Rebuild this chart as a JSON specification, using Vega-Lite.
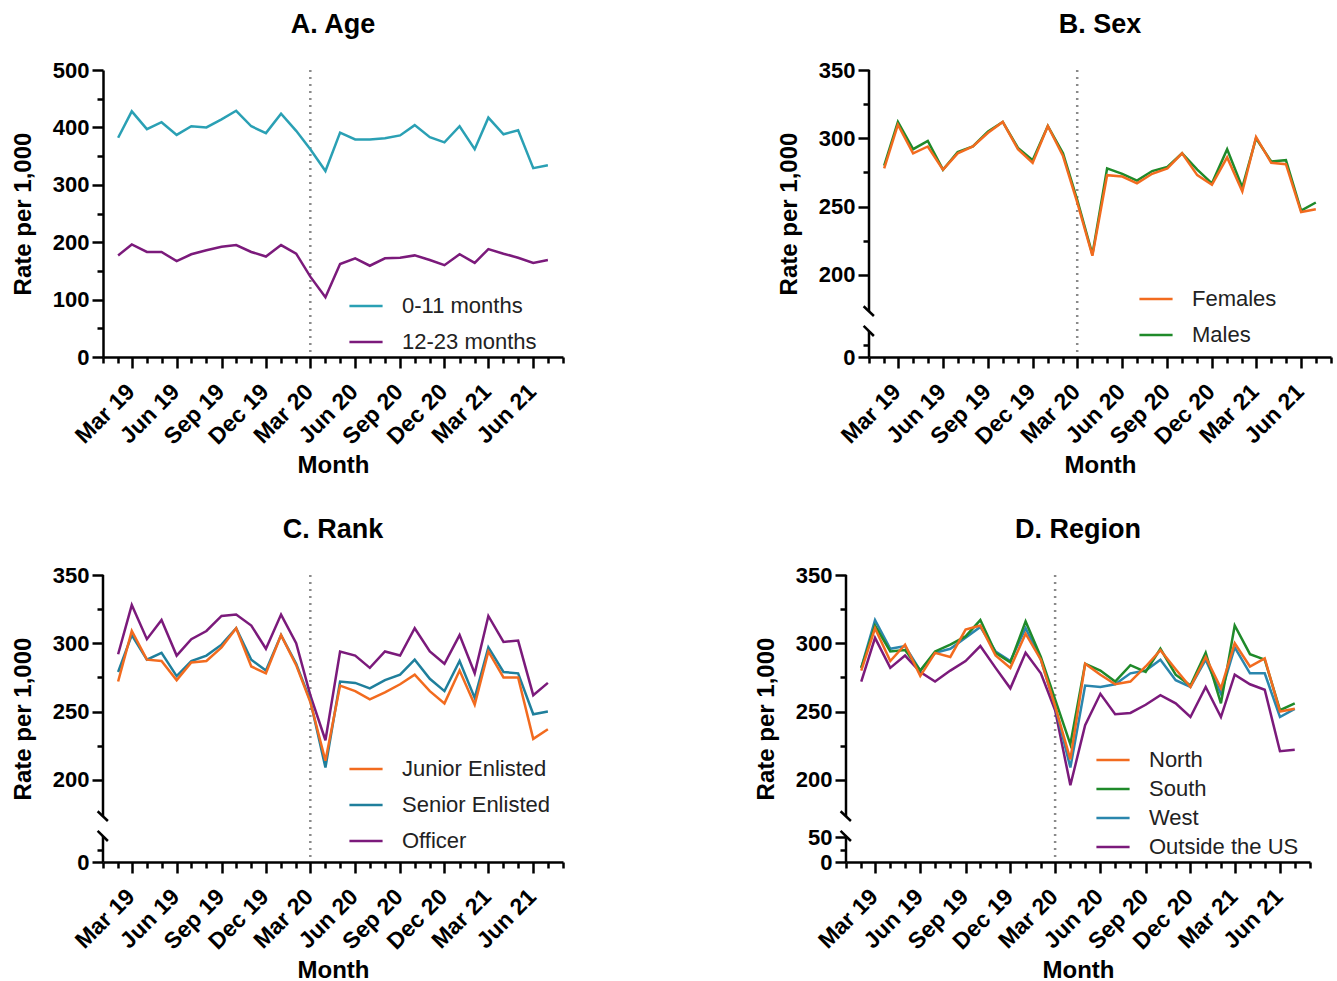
{
  "$schema": "https://vega.github.io/schema/vega-lite/v6.json",
  "padding": {"left": 11, "top": 11, "right": 5, "bottom": 5},
  "background": "white",
  "datasets": {
    "age": [
      {"month":"2019-02-01","group":"0-11 months","rate":382},{"month":"2019-03-01","group":"0-11 months","rate":428},{"month":"2019-04-01","group":"0-11 months","rate":397},{"month":"2019-05-01","group":"0-11 months","rate":409},{"month":"2019-06-01","group":"0-11 months","rate":387},{"month":"2019-07-01","group":"0-11 months","rate":402},{"month":"2019-08-01","group":"0-11 months","rate":400},{"month":"2019-09-01","group":"0-11 months","rate":414},{"month":"2019-10-01","group":"0-11 months","rate":429},{"month":"2019-11-01","group":"0-11 months","rate":402},{"month":"2019-12-01","group":"0-11 months","rate":390},{"month":"2020-01-01","group":"0-11 months","rate":424},{"month":"2020-02-01","group":"0-11 months","rate":394},{"month":"2020-03-01","group":"0-11 months","rate":362},{"month":"2020-04-01","group":"0-11 months","rate":324},{"month":"2020-05-01","group":"0-11 months","rate":391},{"month":"2020-06-01","group":"0-11 months","rate":379},{"month":"2020-07-01","group":"0-11 months","rate":379},{"month":"2020-08-01","group":"0-11 months","rate":381},{"month":"2020-09-01","group":"0-11 months","rate":386},{"month":"2020-10-01","group":"0-11 months","rate":404},{"month":"2020-11-01","group":"0-11 months","rate":383},{"month":"2020-12-01","group":"0-11 months","rate":374},{"month":"2021-01-01","group":"0-11 months","rate":402},{"month":"2021-02-01","group":"0-11 months","rate":362},{"month":"2021-03-01","group":"0-11 months","rate":417},{"month":"2021-04-01","group":"0-11 months","rate":388},{"month":"2021-05-01","group":"0-11 months","rate":395},{"month":"2021-06-01","group":"0-11 months","rate":329},{"month":"2021-07-01","group":"0-11 months","rate":334},
      {"month":"2019-02-01","group":"12-23 months","rate":177},{"month":"2019-03-01","group":"12-23 months","rate":196},{"month":"2019-04-01","group":"12-23 months","rate":183},{"month":"2019-05-01","group":"12-23 months","rate":183},{"month":"2019-06-01","group":"12-23 months","rate":167},{"month":"2019-07-01","group":"12-23 months","rate":179},{"month":"2019-08-01","group":"12-23 months","rate":186},{"month":"2019-09-01","group":"12-23 months","rate":192},{"month":"2019-10-01","group":"12-23 months","rate":195},{"month":"2019-11-01","group":"12-23 months","rate":183},{"month":"2019-12-01","group":"12-23 months","rate":175},{"month":"2020-01-01","group":"12-23 months","rate":195},{"month":"2020-02-01","group":"12-23 months","rate":180},{"month":"2020-03-01","group":"12-23 months","rate":140},{"month":"2020-04-01","group":"12-23 months","rate":104},{"month":"2020-05-01","group":"12-23 months","rate":162},{"month":"2020-06-01","group":"12-23 months","rate":172},{"month":"2020-07-01","group":"12-23 months","rate":159},{"month":"2020-08-01","group":"12-23 months","rate":172},{"month":"2020-09-01","group":"12-23 months","rate":173},{"month":"2020-10-01","group":"12-23 months","rate":177},{"month":"2020-11-01","group":"12-23 months","rate":169},{"month":"2020-12-01","group":"12-23 months","rate":160},{"month":"2021-01-01","group":"12-23 months","rate":179},{"month":"2021-02-01","group":"12-23 months","rate":164},{"month":"2021-03-01","group":"12-23 months","rate":188},{"month":"2021-04-01","group":"12-23 months","rate":180},{"month":"2021-05-01","group":"12-23 months","rate":173},{"month":"2021-06-01","group":"12-23 months","rate":164},{"month":"2021-07-01","group":"12-23 months","rate":169}
    ],
    "sex": [
      {"month":"2019-02-01","group":"Males","rate":280},{"month":"2019-03-01","group":"Males","rate":312},{"month":"2019-04-01","group":"Males","rate":292},{"month":"2019-05-01","group":"Males","rate":298},{"month":"2019-06-01","group":"Males","rate":277},{"month":"2019-07-01","group":"Males","rate":290},{"month":"2019-08-01","group":"Males","rate":294},{"month":"2019-09-01","group":"Males","rate":305},{"month":"2019-10-01","group":"Males","rate":312},{"month":"2019-11-01","group":"Males","rate":293},{"month":"2019-12-01","group":"Males","rate":284},{"month":"2020-01-01","group":"Males","rate":309},{"month":"2020-02-01","group":"Males","rate":289},{"month":"2020-03-01","group":"Males","rate":255},{"month":"2020-04-01","group":"Males","rate":215},{"month":"2020-05-01","group":"Males","rate":278},{"month":"2020-06-01","group":"Males","rate":274},{"month":"2020-07-01","group":"Males","rate":269},{"month":"2020-08-01","group":"Males","rate":276},{"month":"2020-09-01","group":"Males","rate":279},{"month":"2020-10-01","group":"Males","rate":289},{"month":"2020-11-01","group":"Males","rate":277},{"month":"2020-12-01","group":"Males","rate":267},{"month":"2021-01-01","group":"Males","rate":292},{"month":"2021-02-01","group":"Males","rate":264},{"month":"2021-03-01","group":"Males","rate":300},{"month":"2021-04-01","group":"Males","rate":283},{"month":"2021-05-01","group":"Males","rate":284},{"month":"2021-06-01","group":"Males","rate":247},{"month":"2021-07-01","group":"Males","rate":253},
      {"month":"2019-02-01","group":"Females","rate":278},{"month":"2019-03-01","group":"Females","rate":310},{"month":"2019-04-01","group":"Females","rate":289},{"month":"2019-05-01","group":"Females","rate":294},{"month":"2019-06-01","group":"Females","rate":277},{"month":"2019-07-01","group":"Females","rate":289},{"month":"2019-08-01","group":"Females","rate":294},{"month":"2019-09-01","group":"Females","rate":304},{"month":"2019-10-01","group":"Females","rate":312},{"month":"2019-11-01","group":"Females","rate":292},{"month":"2019-12-01","group":"Females","rate":282},{"month":"2020-01-01","group":"Females","rate":309},{"month":"2020-02-01","group":"Females","rate":287},{"month":"2020-03-01","group":"Females","rate":253},{"month":"2020-04-01","group":"Females","rate":214},{"month":"2020-05-01","group":"Females","rate":273},{"month":"2020-06-01","group":"Females","rate":272},{"month":"2020-07-01","group":"Females","rate":267},{"month":"2020-08-01","group":"Females","rate":274},{"month":"2020-09-01","group":"Females","rate":278},{"month":"2020-10-01","group":"Females","rate":289},{"month":"2020-11-01","group":"Females","rate":273},{"month":"2020-12-01","group":"Females","rate":266},{"month":"2021-01-01","group":"Females","rate":286},{"month":"2021-02-01","group":"Females","rate":261},{"month":"2021-03-01","group":"Females","rate":301},{"month":"2021-04-01","group":"Females","rate":282},{"month":"2021-05-01","group":"Females","rate":281},{"month":"2021-06-01","group":"Females","rate":246},{"month":"2021-07-01","group":"Females","rate":248}
    ],
    "rank": [
      {"month":"2019-02-01","group":"Officer","rate":292},{"month":"2019-03-01","group":"Officer","rate":328},{"month":"2019-04-01","group":"Officer","rate":303},{"month":"2019-05-01","group":"Officer","rate":317},{"month":"2019-06-01","group":"Officer","rate":291},{"month":"2019-07-01","group":"Officer","rate":303},{"month":"2019-08-01","group":"Officer","rate":309},{"month":"2019-09-01","group":"Officer","rate":320},{"month":"2019-10-01","group":"Officer","rate":321},{"month":"2019-11-01","group":"Officer","rate":313},{"month":"2019-12-01","group":"Officer","rate":296},{"month":"2020-01-01","group":"Officer","rate":321},{"month":"2020-02-01","group":"Officer","rate":300},{"month":"2020-03-01","group":"Officer","rate":262},{"month":"2020-04-01","group":"Officer","rate":229},{"month":"2020-05-01","group":"Officer","rate":294},{"month":"2020-06-01","group":"Officer","rate":291},{"month":"2020-07-01","group":"Officer","rate":282},{"month":"2020-08-01","group":"Officer","rate":294},{"month":"2020-09-01","group":"Officer","rate":291},{"month":"2020-10-01","group":"Officer","rate":311},{"month":"2020-11-01","group":"Officer","rate":294},{"month":"2020-12-01","group":"Officer","rate":285},{"month":"2021-01-01","group":"Officer","rate":306},{"month":"2021-02-01","group":"Officer","rate":278},{"month":"2021-03-01","group":"Officer","rate":320},{"month":"2021-04-01","group":"Officer","rate":301},{"month":"2021-05-01","group":"Officer","rate":302},{"month":"2021-06-01","group":"Officer","rate":262},{"month":"2021-07-01","group":"Officer","rate":271},
      {"month":"2019-02-01","group":"Senior Enlisted","rate":279},{"month":"2019-03-01","group":"Senior Enlisted","rate":306},{"month":"2019-04-01","group":"Senior Enlisted","rate":288},{"month":"2019-05-01","group":"Senior Enlisted","rate":293},{"month":"2019-06-01","group":"Senior Enlisted","rate":276},{"month":"2019-07-01","group":"Senior Enlisted","rate":287},{"month":"2019-08-01","group":"Senior Enlisted","rate":291},{"month":"2019-09-01","group":"Senior Enlisted","rate":299},{"month":"2019-10-01","group":"Senior Enlisted","rate":311},{"month":"2019-11-01","group":"Senior Enlisted","rate":288},{"month":"2019-12-01","group":"Senior Enlisted","rate":280},{"month":"2020-01-01","group":"Senior Enlisted","rate":306},{"month":"2020-02-01","group":"Senior Enlisted","rate":285},{"month":"2020-03-01","group":"Senior Enlisted","rate":258},{"month":"2020-04-01","group":"Senior Enlisted","rate":209},{"month":"2020-05-01","group":"Senior Enlisted","rate":272},{"month":"2020-06-01","group":"Senior Enlisted","rate":271},{"month":"2020-07-01","group":"Senior Enlisted","rate":267},{"month":"2020-08-01","group":"Senior Enlisted","rate":273},{"month":"2020-09-01","group":"Senior Enlisted","rate":277},{"month":"2020-10-01","group":"Senior Enlisted","rate":288},{"month":"2020-11-01","group":"Senior Enlisted","rate":274},{"month":"2020-12-01","group":"Senior Enlisted","rate":265},{"month":"2021-01-01","group":"Senior Enlisted","rate":287},{"month":"2021-02-01","group":"Senior Enlisted","rate":260},{"month":"2021-03-01","group":"Senior Enlisted","rate":297},{"month":"2021-04-01","group":"Senior Enlisted","rate":279},{"month":"2021-05-01","group":"Senior Enlisted","rate":278},{"month":"2021-06-01","group":"Senior Enlisted","rate":248},{"month":"2021-07-01","group":"Senior Enlisted","rate":250},
      {"month":"2019-02-01","group":"Junior Enlisted","rate":272},{"month":"2019-03-01","group":"Junior Enlisted","rate":309},{"month":"2019-04-01","group":"Junior Enlisted","rate":288},{"month":"2019-05-01","group":"Junior Enlisted","rate":287},{"month":"2019-06-01","group":"Junior Enlisted","rate":273},{"month":"2019-07-01","group":"Junior Enlisted","rate":286},{"month":"2019-08-01","group":"Junior Enlisted","rate":287},{"month":"2019-09-01","group":"Junior Enlisted","rate":297},{"month":"2019-10-01","group":"Junior Enlisted","rate":311},{"month":"2019-11-01","group":"Junior Enlisted","rate":283},{"month":"2019-12-01","group":"Junior Enlisted","rate":278},{"month":"2020-01-01","group":"Junior Enlisted","rate":306},{"month":"2020-02-01","group":"Junior Enlisted","rate":284},{"month":"2020-03-01","group":"Junior Enlisted","rate":257},{"month":"2020-04-01","group":"Junior Enlisted","rate":214},{"month":"2020-05-01","group":"Junior Enlisted","rate":269},{"month":"2020-06-01","group":"Junior Enlisted","rate":265},{"month":"2020-07-01","group":"Junior Enlisted","rate":259},{"month":"2020-08-01","group":"Junior Enlisted","rate":264},{"month":"2020-09-01","group":"Junior Enlisted","rate":270},{"month":"2020-10-01","group":"Junior Enlisted","rate":277},{"month":"2020-11-01","group":"Junior Enlisted","rate":265},{"month":"2020-12-01","group":"Junior Enlisted","rate":256},{"month":"2021-01-01","group":"Junior Enlisted","rate":280},{"month":"2021-02-01","group":"Junior Enlisted","rate":255},{"month":"2021-03-01","group":"Junior Enlisted","rate":294},{"month":"2021-04-01","group":"Junior Enlisted","rate":275},{"month":"2021-05-01","group":"Junior Enlisted","rate":275},{"month":"2021-06-01","group":"Junior Enlisted","rate":230},{"month":"2021-07-01","group":"Junior Enlisted","rate":237}
    ],
    "region": [
      {"month":"2019-02-01","group":"Outside the US","rate":272},{"month":"2019-03-01","group":"Outside the US","rate":304},{"month":"2019-04-01","group":"Outside the US","rate":282},{"month":"2019-05-01","group":"Outside the US","rate":291},{"month":"2019-06-01","group":"Outside the US","rate":279},{"month":"2019-07-01","group":"Outside the US","rate":272},{"month":"2019-08-01","group":"Outside the US","rate":280},{"month":"2019-09-01","group":"Outside the US","rate":287},{"month":"2019-10-01","group":"Outside the US","rate":298},{"month":"2019-11-01","group":"Outside the US","rate":282},{"month":"2019-12-01","group":"Outside the US","rate":267},{"month":"2020-01-01","group":"Outside the US","rate":293},{"month":"2020-02-01","group":"Outside the US","rate":278},{"month":"2020-03-01","group":"Outside the US","rate":251},{"month":"2020-04-01","group":"Outside the US","rate":196},{"month":"2020-05-01","group":"Outside the US","rate":240},{"month":"2020-06-01","group":"Outside the US","rate":263},{"month":"2020-07-01","group":"Outside the US","rate":248},{"month":"2020-08-01","group":"Outside the US","rate":249},{"month":"2020-09-01","group":"Outside the US","rate":255},{"month":"2020-10-01","group":"Outside the US","rate":262},{"month":"2020-11-01","group":"Outside the US","rate":256},{"month":"2020-12-01","group":"Outside the US","rate":246},{"month":"2021-01-01","group":"Outside the US","rate":268},{"month":"2021-02-01","group":"Outside the US","rate":246},{"month":"2021-03-01","group":"Outside the US","rate":277},{"month":"2021-04-01","group":"Outside the US","rate":270},{"month":"2021-05-01","group":"Outside the US","rate":266},{"month":"2021-06-01","group":"Outside the US","rate":221},{"month":"2021-07-01","group":"Outside the US","rate":222},
      {"month":"2019-02-01","group":"West","rate":282},{"month":"2019-03-01","group":"West","rate":317},{"month":"2019-04-01","group":"West","rate":296},{"month":"2019-05-01","group":"West","rate":298},{"month":"2019-06-01","group":"West","rate":280},{"month":"2019-07-01","group":"West","rate":293},{"month":"2019-08-01","group":"West","rate":296},{"month":"2019-09-01","group":"West","rate":304},{"month":"2019-10-01","group":"West","rate":312},{"month":"2019-11-01","group":"West","rate":294},{"month":"2019-12-01","group":"West","rate":287},{"month":"2020-01-01","group":"West","rate":311},{"month":"2020-02-01","group":"West","rate":288},{"month":"2020-03-01","group":"West","rate":254},{"month":"2020-04-01","group":"West","rate":209},{"month":"2020-05-01","group":"West","rate":269},{"month":"2020-06-01","group":"West","rate":268},{"month":"2020-07-01","group":"West","rate":270},{"month":"2020-08-01","group":"West","rate":278},{"month":"2020-09-01","group":"West","rate":280},{"month":"2020-10-01","group":"West","rate":288},{"month":"2020-11-01","group":"West","rate":273},{"month":"2020-12-01","group":"West","rate":268},{"month":"2021-01-01","group":"West","rate":288},{"month":"2021-02-01","group":"West","rate":263},{"month":"2021-03-01","group":"West","rate":297},{"month":"2021-04-01","group":"West","rate":278},{"month":"2021-05-01","group":"West","rate":278},{"month":"2021-06-01","group":"West","rate":246},{"month":"2021-07-01","group":"West","rate":252},
      {"month":"2019-02-01","group":"South","rate":282},{"month":"2019-03-01","group":"South","rate":313},{"month":"2019-04-01","group":"South","rate":294},{"month":"2019-05-01","group":"South","rate":295},{"month":"2019-06-01","group":"South","rate":280},{"month":"2019-07-01","group":"South","rate":294},{"month":"2019-08-01","group":"South","rate":299},{"month":"2019-09-01","group":"South","rate":305},{"month":"2019-10-01","group":"South","rate":317},{"month":"2019-11-01","group":"South","rate":293},{"month":"2019-12-01","group":"South","rate":286},{"month":"2020-01-01","group":"South","rate":316},{"month":"2020-02-01","group":"South","rate":290},{"month":"2020-03-01","group":"South","rate":259},{"month":"2020-04-01","group":"South","rate":226},{"month":"2020-05-01","group":"South","rate":285},{"month":"2020-06-01","group":"South","rate":280},{"month":"2020-07-01","group":"South","rate":272},{"month":"2020-08-01","group":"South","rate":284},{"month":"2020-09-01","group":"South","rate":279},{"month":"2020-10-01","group":"South","rate":296},{"month":"2020-11-01","group":"South","rate":277},{"month":"2020-12-01","group":"South","rate":269},{"month":"2021-01-01","group":"South","rate":293},{"month":"2021-02-01","group":"South","rate":256},{"month":"2021-03-01","group":"South","rate":313},{"month":"2021-04-01","group":"South","rate":292},{"month":"2021-05-01","group":"South","rate":288},{"month":"2021-06-01","group":"South","rate":251},{"month":"2021-07-01","group":"South","rate":256},
      {"month":"2019-02-01","group":"North","rate":280},{"month":"2019-03-01","group":"North","rate":311},{"month":"2019-04-01","group":"North","rate":287},{"month":"2019-05-01","group":"North","rate":299},{"month":"2019-06-01","group":"North","rate":276},{"month":"2019-07-01","group":"North","rate":293},{"month":"2019-08-01","group":"North","rate":290},{"month":"2019-09-01","group":"North","rate":310},{"month":"2019-10-01","group":"North","rate":313},{"month":"2019-11-01","group":"North","rate":291},{"month":"2019-12-01","group":"North","rate":282},{"month":"2020-01-01","group":"North","rate":307},{"month":"2020-02-01","group":"North","rate":288},{"month":"2020-03-01","group":"North","rate":254},{"month":"2020-04-01","group":"North","rate":215},{"month":"2020-05-01","group":"North","rate":285},{"month":"2020-06-01","group":"North","rate":277},{"month":"2020-07-01","group":"North","rate":270},{"month":"2020-08-01","group":"North","rate":272},{"month":"2020-09-01","group":"North","rate":283},{"month":"2020-10-01","group":"North","rate":295},{"month":"2020-11-01","group":"North","rate":281},{"month":"2020-12-01","group":"North","rate":268},{"month":"2021-01-01","group":"North","rate":290},{"month":"2021-02-01","group":"North","rate":267},{"month":"2021-03-01","group":"North","rate":300},{"month":"2021-04-01","group":"North","rate":283},{"month":"2021-05-01","group":"North","rate":289},{"month":"2021-06-01","group":"North","rate":250},{"month":"2021-07-01","group":"North","rate":252}
    ],
    "event": [{"month": "2020-03-01"}]
  },
  "config": {
    "view": {"stroke": null},
    "font": "Liberation Sans",
    "axis": {
      "grid": false, "domainColor": "black", "domainWidth": 2.5, "tickColor": "black", "tickWidth": 2.5,
      "labelFont": "Liberation Sans", "labelFontWeight": "bold", "labelFontSize": 22, "labelColor": "black",
      "titleFont": "Liberation Sans", "titleFontWeight": "bold", "titleFontSize": 24, "titleColor": "black"
    },
    "axisX": {"labelFontSize": 23, "labelOffset": -9},
    "axisY": {"tickCount": 50, "titlePadding": 17},
    "legend": {
      "labelFont": "Liberation Sans", "labelFontSize": 22, "labelColor": "#222222",
      "symbolType": "stroke", "symbolStrokeWidth": 3, "symbolSize": 1100, "labelOffset": 18, "rowPadding": 7
    },
    "title": {"font": "Liberation Sans", "fontSize": 27, "fontWeight": "bold", "color": "black", "offset": 20},
    "line": {"strokeWidth": 2.5}
  },
  "spacing": 38,
  "resolve": {"scale": {"color": "independent"}, "legend": {"color": "independent"}},
  "vconcat": [
    {
      "bounds": "flush",
      "spacing": 306,
      "resolve": {"scale": {"color": "independent"}, "legend": {"color": "independent"}},
      "hconcat": [
        {
          "title": "A. Age",
          "width": 460, "height": 287,
          "layer": [
            {
              "data": {"name": "event"},
              "mark": {"type": "rule", "color": "#8a8a8a", "strokeWidth": 2.5, "strokeDash": [2, 5]},
              "encoding": {"x": {"field": "month", "type": "temporal", "scale": {"type": "utc"}}}
            },
            {
              "data": {"name": "age"},
              "mark": {"type": "line"},
              "encoding": {
                "x": {"field": "month", "type": "temporal", "title": "Month",
                  "scale": {"type": "utc", "nice": false, "domain": [{"year": 2019, "month": 1, "date": 1, "utc": true}, {"year": 2021, "month": 8, "date": 1, "utc": true}]},
                  "axis": {"tickCount": {"interval": "month", "step": 1}, "labelAngle": -45, "labelAlign": "right", "labelBaseline": "top", "labelOverlap": false, "labelFlush": false, "labelPadding": 12, "titlePadding": 5,
                    "labelExpr": "utcmonth(datum.value) % 3 == 2 ? utcFormat(datum.value, '%b %y') : ''",
                    "tickSize": {"condition": {"test": "utcmonth(datum.value) % 3 == 2", "value": 11}, "value": 6}}},
                "y": {"field": "rate", "type": "quantitative", "title": "Rate per 1,000",
                  "scale": {"domain": [0, 500], "nice": false},
                  "axis": {"values": [0, 50, 100, 150, 200, 250, 300, 350, 400, 450, 500], "labelPadding": 3, "labelOverlap": false,
                    "labelExpr": "datum.value % 100 == 0 ? datum.label : ''",
                    "tickSize": {"condition": {"test": "datum.value % 100 == 0", "value": 11}, "value": 6}}},
                "color": {"field": "group", "type": "nominal",
                  "scale": {"domain": ["0-11 months", "12-23 months"], "range": ["#2aa0b4", "#7b1a7b"]},
                  "legend": {"title": null, "orient": "none", "legendX": 245, "legendY": 218}}
              }
            }
          ]
        },
        {
          "title": "B. Sex",
          "width": 462, "height": 287,
          "layer": [
            {
              "data": {"name": "event"},
              "mark": {"type": "rule", "color": "#8a8a8a", "strokeWidth": 2.5, "strokeDash": [2, 5]},
              "encoding": {"x": {"field": "month", "type": "temporal", "scale": {"type": "utc"}}}
            },
            {
              "data": {"values": [{}]},
              "mark": {"type": "rule", "color": "black", "strokeWidth": 2.5},
              "encoding": {
                "x": {"datum": {"year": 2019, "month": 1, "date": 1, "utc": true}, "type": "temporal", "scale": {"type": "utc"}},
                "y": {"datum": 164}, "y2": {"datum": 350}
              }
            },
            {
              "data": {"values": [{}]},
              "mark": {"type": "rule", "color": "black", "strokeWidth": 2.5},
              "encoding": {
                "x": {"datum": {"year": 2019, "month": 1, "date": 1, "utc": true}, "type": "temporal", "scale": {"type": "utc"}},
                "y": {"datum": 0}, "y2": {"datum": 56}
              }
            },
            {
              "data": {"values": [{}]},
              "mark": {"type": "rule", "color": "black", "strokeWidth": 2.5},
              "encoding": {
                "x": {"datum": {"year": 2018, "month": 12, "date": 21, "utc": true}, "type": "temporal", "scale": {"type": "utc"}},
                "x2": {"datum": {"year": 2019, "month": 1, "date": 11, "utc": true}},
                "y": {"datum": 177}, "y2": {"datum": 137}
              }
            },
            {
              "data": {"values": [{}]},
              "mark": {"type": "rule", "color": "black", "strokeWidth": 2.5},
              "encoding": {
                "x": {"datum": {"year": 2018, "month": 12, "date": 21, "utc": true}, "type": "temporal", "scale": {"type": "utc"}},
                "x2": {"datum": {"year": 2019, "month": 1, "date": 11, "utc": true}},
                "y": {"datum": 83}, "y2": {"datum": 42}
              }
            },
            {
              "data": {"name": "sex"},
              "mark": {"type": "line"},
              "encoding": {
                "x": {"field": "month", "type": "temporal", "title": "Month",
                  "scale": {"type": "utc", "nice": false, "domain": [{"year": 2019, "month": 1, "date": 1, "utc": true}, {"year": 2021, "month": 8, "date": 1, "utc": true}]},
                  "axis": {"tickCount": {"interval": "month", "step": 1}, "labelAngle": -45, "labelAlign": "right", "labelBaseline": "top", "labelOverlap": false, "labelFlush": false, "labelPadding": 12, "titlePadding": 5,
                    "labelExpr": "utcmonth(datum.value) % 3 == 2 ? utcFormat(datum.value, '%b %y') : ''",
                    "tickSize": {"condition": {"test": "utcmonth(datum.value) % 3 == 2", "value": 11}, "value": 6}}},
                "y": {"field": "rate", "type": "quantitative", "title": "Rate per 1,000",
                  "scale": {"domain": [0, 50, 175, 350], "range": [287, 262, 239, 0], "nice": false, "zero": false},
                  "axis": {"domain": false, "values": [0, 25, 200, 225, 250, 275, 300, 325, 350], "labelPadding": 3, "labelOverlap": false,
                    "labelExpr": "indexof([0, 200, 250, 300, 350], datum.value) >= 0 ? datum.label : ''",
                    "tickSize": {"condition": {"test": "indexof([0, 200, 250, 300, 350], datum.value) >= 0", "value": 11}, "value": 6}}},
                "color": {"field": "group", "type": "nominal",
                  "scale": {"domain": ["Females", "Males"], "range": ["#f26b1f", "#1f8a2a"]},
                  "legend": {"title": null, "orient": "none", "legendX": 269, "legendY": 211}}
              }
            }
          ]
        }
      ]
    },
    {
      "bounds": "flush",
      "spacing": 283,
      "resolve": {"scale": {"color": "independent"}, "legend": {"color": "independent"}},
      "hconcat": [
        {
          "title": "C. Rank",
          "width": 460, "height": 287,
          "layer": [
            {
              "data": {"name": "event"},
              "mark": {"type": "rule", "color": "#8a8a8a", "strokeWidth": 2.5, "strokeDash": [2, 5]},
              "encoding": {"x": {"field": "month", "type": "temporal", "scale": {"type": "utc"}}}
            },
            {
              "data": {"values": [{}]},
              "mark": {"type": "rule", "color": "black", "strokeWidth": 2.5},
              "encoding": {
                "x": {"datum": {"year": 2019, "month": 1, "date": 1, "utc": true}, "type": "temporal", "scale": {"type": "utc"}},
                "y": {"datum": 164}, "y2": {"datum": 350}
              }
            },
            {
              "data": {"values": [{}]},
              "mark": {"type": "rule", "color": "black", "strokeWidth": 2.5},
              "encoding": {
                "x": {"datum": {"year": 2019, "month": 1, "date": 1, "utc": true}, "type": "temporal", "scale": {"type": "utc"}},
                "y": {"datum": 0}, "y2": {"datum": 56}
              }
            },
            {
              "data": {"values": [{}]},
              "mark": {"type": "rule", "color": "black", "strokeWidth": 2.5},
              "encoding": {
                "x": {"datum": {"year": 2018, "month": 12, "date": 21, "utc": true}, "type": "temporal", "scale": {"type": "utc"}},
                "x2": {"datum": {"year": 2019, "month": 1, "date": 11, "utc": true}},
                "y": {"datum": 177}, "y2": {"datum": 137}
              }
            },
            {
              "data": {"values": [{}]},
              "mark": {"type": "rule", "color": "black", "strokeWidth": 2.5},
              "encoding": {
                "x": {"datum": {"year": 2018, "month": 12, "date": 21, "utc": true}, "type": "temporal", "scale": {"type": "utc"}},
                "x2": {"datum": {"year": 2019, "month": 1, "date": 11, "utc": true}},
                "y": {"datum": 83}, "y2": {"datum": 42}
              }
            },
            {
              "data": {"name": "rank"},
              "mark": {"type": "line"},
              "encoding": {
                "x": {"field": "month", "type": "temporal", "title": "Month",
                  "scale": {"type": "utc", "nice": false, "domain": [{"year": 2019, "month": 1, "date": 1, "utc": true}, {"year": 2021, "month": 8, "date": 1, "utc": true}]},
                  "axis": {"tickCount": {"interval": "month", "step": 1}, "labelAngle": -45, "labelAlign": "right", "labelBaseline": "top", "labelOverlap": false, "labelFlush": false, "labelPadding": 12, "titlePadding": 5,
                    "labelExpr": "utcmonth(datum.value) % 3 == 2 ? utcFormat(datum.value, '%b %y') : ''",
                    "tickSize": {"condition": {"test": "utcmonth(datum.value) % 3 == 2", "value": 11}, "value": 6}}},
                "y": {"field": "rate", "type": "quantitative", "title": "Rate per 1,000",
                  "scale": {"domain": [0, 50, 175, 350], "range": [287, 262, 239, 0], "nice": false, "zero": false},
                  "axis": {"domain": false, "values": [0, 25, 200, 225, 250, 275, 300, 325, 350], "labelPadding": 3, "labelOverlap": false,
                    "labelExpr": "indexof([0, 200, 250, 300, 350], datum.value) >= 0 ? datum.label : ''",
                    "tickSize": {"condition": {"test": "indexof([0, 200, 250, 300, 350], datum.value) >= 0", "value": 11}, "value": 6}}},
                "color": {"field": "group", "type": "nominal",
                  "scale": {"domain": ["Junior Enlisted", "Senior Enlisted", "Officer"], "range": ["#f26b1f", "#1f7f9c", "#7b1a7b"]},
                  "legend": {"title": null, "orient": "none", "legendX": 245, "legendY": 176}}
              }
            }
          ]
        },
        {
          "title": "D. Region",
          "width": 464, "height": 287,
          "layer": [
            {
              "data": {"name": "event"},
              "mark": {"type": "rule", "color": "#8a8a8a", "strokeWidth": 2.5, "strokeDash": [2, 5]},
              "encoding": {"x": {"field": "month", "type": "temporal", "scale": {"type": "utc"}}}
            },
            {
              "data": {"values": [{}]},
              "mark": {"type": "rule", "color": "black", "strokeWidth": 2.5},
              "encoding": {
                "x": {"datum": {"year": 2019, "month": 1, "date": 1, "utc": true}, "type": "temporal", "scale": {"type": "utc"}},
                "y": {"datum": 164}, "y2": {"datum": 350}
              }
            },
            {
              "data": {"values": [{}]},
              "mark": {"type": "rule", "color": "black", "strokeWidth": 2.5},
              "encoding": {
                "x": {"datum": {"year": 2019, "month": 1, "date": 1, "utc": true}, "type": "temporal", "scale": {"type": "utc"}},
                "y": {"datum": 0}, "y2": {"datum": 56}
              }
            },
            {
              "data": {"values": [{}]},
              "mark": {"type": "rule", "color": "black", "strokeWidth": 2.5},
              "encoding": {
                "x": {"datum": {"year": 2018, "month": 12, "date": 21, "utc": true}, "type": "temporal", "scale": {"type": "utc"}},
                "x2": {"datum": {"year": 2019, "month": 1, "date": 11, "utc": true}},
                "y": {"datum": 177}, "y2": {"datum": 137}
              }
            },
            {
              "data": {"values": [{}]},
              "mark": {"type": "rule", "color": "black", "strokeWidth": 2.5},
              "encoding": {
                "x": {"datum": {"year": 2018, "month": 12, "date": 21, "utc": true}, "type": "temporal", "scale": {"type": "utc"}},
                "x2": {"datum": {"year": 2019, "month": 1, "date": 11, "utc": true}},
                "y": {"datum": 83}, "y2": {"datum": 42}
              }
            },
            {
              "data": {"name": "region"},
              "mark": {"type": "line"},
              "encoding": {
                "x": {"field": "month", "type": "temporal", "title": "Month",
                  "scale": {"type": "utc", "nice": false, "domain": [{"year": 2019, "month": 1, "date": 1, "utc": true}, {"year": 2021, "month": 8, "date": 1, "utc": true}]},
                  "axis": {"tickCount": {"interval": "month", "step": 1}, "labelAngle": -45, "labelAlign": "right", "labelBaseline": "top", "labelOverlap": false, "labelFlush": false, "labelPadding": 12, "titlePadding": 5,
                    "labelExpr": "utcmonth(datum.value) % 3 == 2 ? utcFormat(datum.value, '%b %y') : ''",
                    "tickSize": {"condition": {"test": "utcmonth(datum.value) % 3 == 2", "value": 11}, "value": 6}}},
                "y": {"field": "rate", "type": "quantitative", "title": "Rate per 1,000",
                  "scale": {"domain": [0, 50, 175, 350], "range": [287, 262, 239, 0], "nice": false, "zero": false},
                  "axis": {"domain": false, "values": [0, 25, 50, 200, 225, 250, 275, 300, 325, 350], "labelPadding": 3, "labelOverlap": false,
                    "labelExpr": "indexof([0, 50, 200, 250, 300, 350], datum.value) >= 0 ? datum.label : ''",
                    "tickSize": {"condition": {"test": "indexof([0, 50, 200, 250, 300, 350], datum.value) >= 0", "value": 11}, "value": 6}}},
                "color": {"field": "group", "type": "nominal",
                  "scale": {"domain": ["North", "South", "West", "Outside the US"], "range": ["#f26b1f", "#1f8a2a", "#2a86ad", "#7b1a7b"]},
                  "legend": {"title": null, "orient": "none", "legendX": 249, "legendY": 167, "rowPadding": 0}}
              }
            }
          ]
        }
      ]
    }
  ]
}
